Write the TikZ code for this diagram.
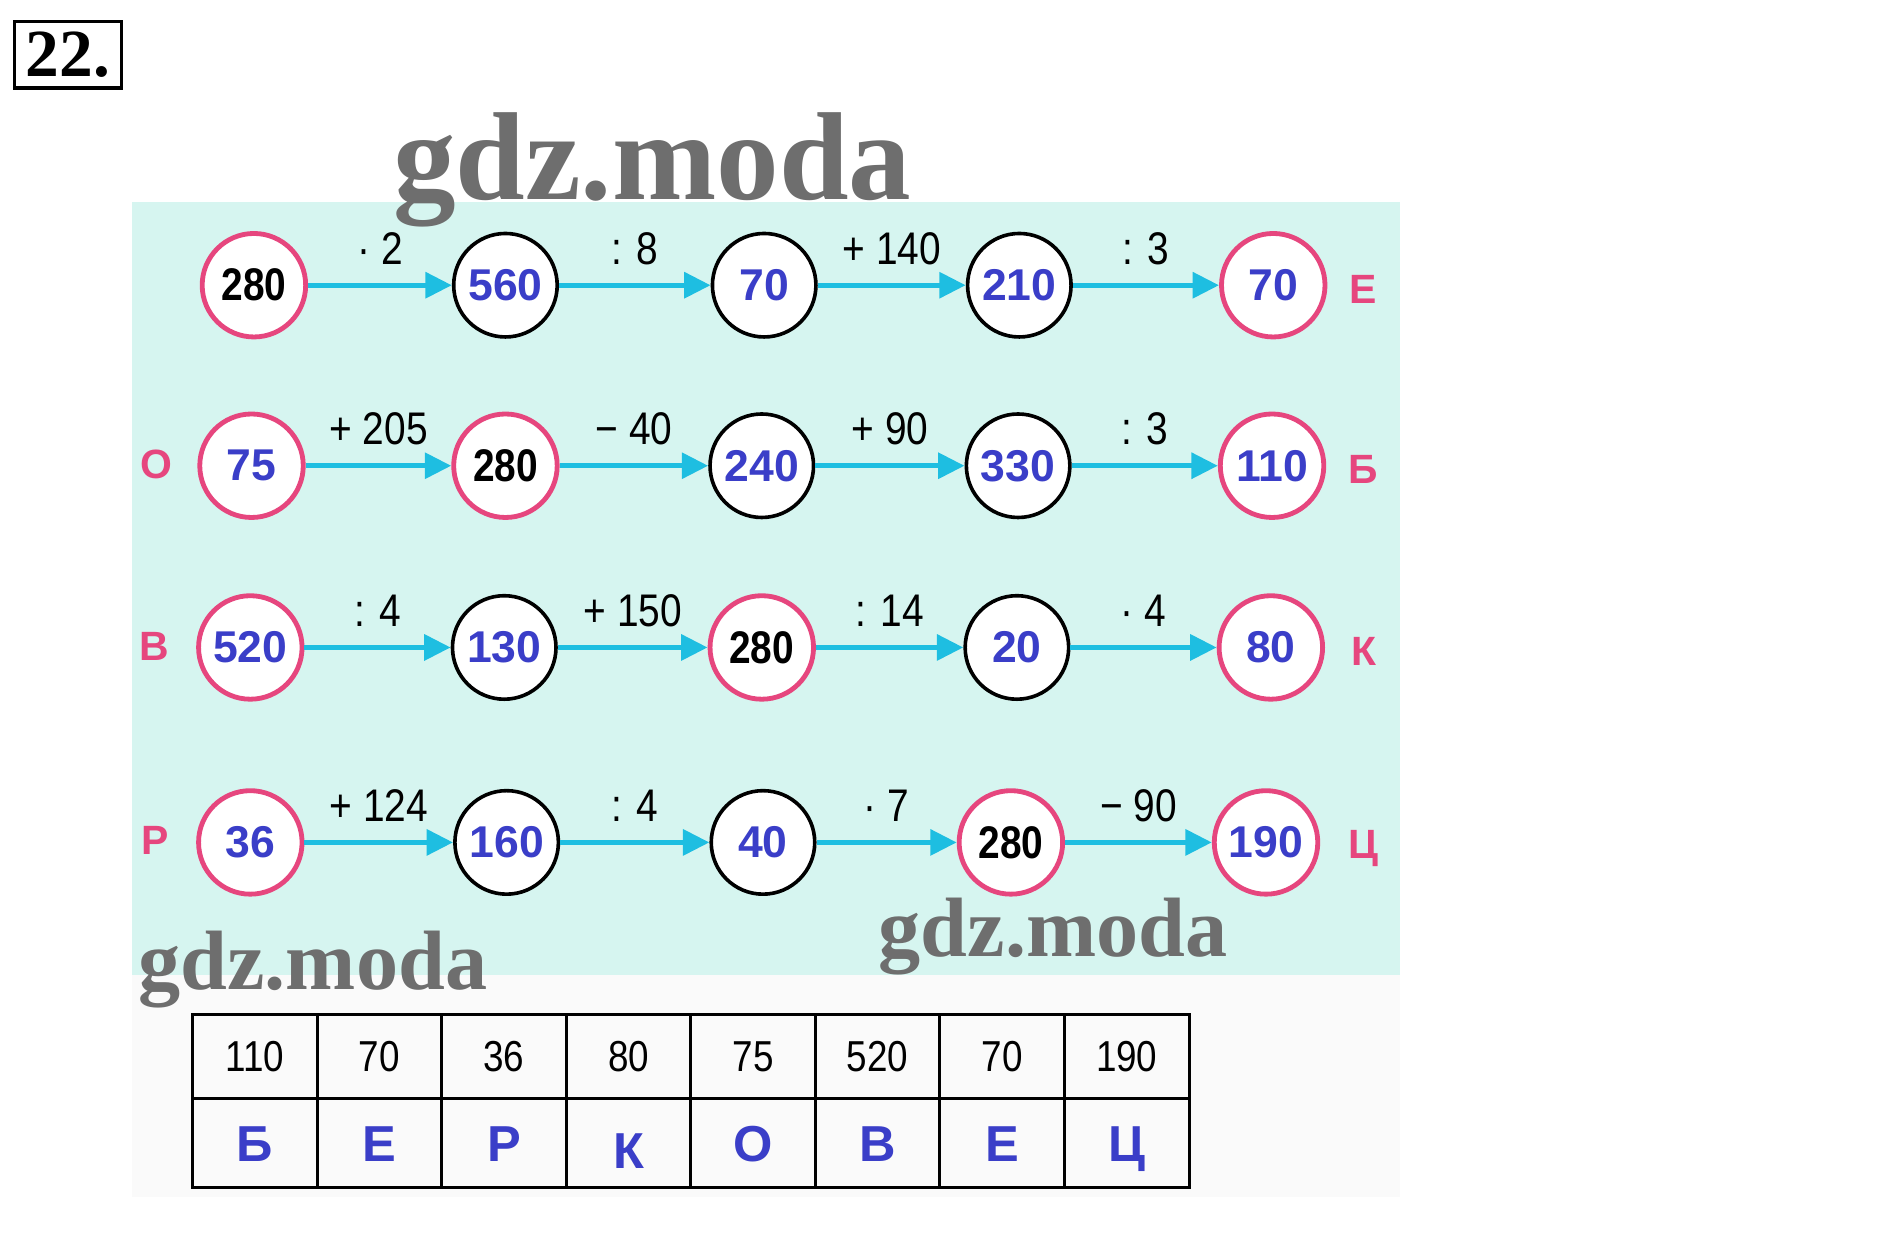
\documentclass[tikz,border=0pt]{standalone}
\usepackage{fontspec}
\setmainfont{Liberation Sans}
\newfontfamily\narrowfont{Liberation Sans}[FakeStretch=0.85]
\newfontfamily\seriffont{Liberation Serif}
\usetikzlibrary{arrows.meta}
\definecolor{bgcyan}{RGB}{214,245,240}
\definecolor{bgpale}{RGB}{250,250,250}
\definecolor{pinkc}{RGB}{230,70,126}
\definecolor{bluec}{RGB}{58,62,200}
\definecolor{arrc}{RGB}{30,190,225}
\definecolor{wmgray}{RGB}{110,110,110}
\begin{document}
\begin{tikzpicture}[x=1pt,y=-1pt,
  pc/.style={circle,draw=pinkc,line width=4pt,fill=white,minimum size=86pt,inner sep=0pt},
  bc/.style={circle,draw=black,line width=3pt,fill=white,minimum size=86pt,inner sep=0pt},
  bn/.style={text=bluec,font=\fontsize{37}{40}\selectfont\bfseries},
  kn/.style={text=black,font=\narrowfont\fontsize{38}{40}\selectfont\bfseries},
  arr/.style={draw=arrc,line width=4.5pt,-{Triangle[length=22pt,width=21pt]}},
  op/.style={midway,above=15pt,inner sep=0pt,font=\narrowfont\fontsize{38}{40}\selectfont},
  lt/.style={text=pinkc,font=\fontsize{34}{36}\selectfont\bfseries,text height=24pt,text depth=0pt,inner sep=0pt},
  wm/.style={text=wmgray,font=\seriffont\bfseries,anchor=base,inner sep=0pt},
  cellt/.style={draw,line width=2.5pt,minimum width=103.5pt,minimum height=70pt,inner sep=0pt,
    font=\narrowfont\fontsize{36}{38}\selectfont},
  cellb/.style={draw,line width=2.5pt,minimum width=103.5pt,minimum height=74pt,inner sep=0pt,
    text=bluec,font=\fontsize{42}{44}\selectfont\bfseries,text height=30pt,text depth=0pt}
]
\useasboundingbox (0,0) rectangle (1568,1033);
\fill[white] (0,0) rectangle (1568,1033);
\fill[bgcyan] (110,168) rectangle (1163,810);
\fill[bgpale] (110,810) rectangle (1163,995);

% exercise number
\node[draw,line width=3pt,minimum width=89pt,minimum height=55pt,inner sep=0pt,
  font=\seriffont\bfseries\fontsize{56}{58}\selectfont] (num) at (56.5,45.5) {22.};

% row 1
\node[pc,kn] (a1) at (211,237) {280};
\node[bc,bn] (a2) at (420,237) {560};
\node[bc,bn] (a3) at (635,237) {70};
\node[bc,bn] (a4) at (847,237) {210};
\node[pc,bn] (a5) at (1058,237) {70};
\node[lt] (la) at (1133,240) {Е};
\draw[arr] (a1) -- node[op]{· 2} (a2);
\draw[arr] (a2) -- node[op]{: 8} (a3);
\draw[arr] (a3) -- node[op]{+ 140} (a4);
\draw[arr] (a4) -- node[op]{: 3} (a5);

% row 2
\node[lt] (lbl) at (130,386) {О};
\node[pc,bn] (b1) at (209,387) {75};
\node[pc,kn] (b2) at (420,387) {280};
\node[bc,bn] (b3) at (633,387) {240};
\node[bc,bn] (b4) at (846,387) {330};
\node[pc,bn] (b5) at (1057,387) {110};
\node[lt] (lbr) at (1133,390) {Б};
\draw[arr] (b1) -- node[op]{+ 205} (b2);
\draw[arr] (b2) -- node[op]{− 40} (b3);
\draw[arr] (b3) -- node[op]{+ 90} (b4);
\draw[arr] (b4) -- node[op]{: 3} (b5);

% row 3
\node[lt] (lcl) at (128,537) {В};
\node[pc,bn] (c1) at (208,538) {520};
\node[bc,bn] (c2) at (419,538) {130};
\node[pc,kn] (c3) at (633,538) {280};
\node[bc,bn] (c4) at (845,538) {20};
\node[pc,bn] (c5) at (1056,538) {80};
\node[lt] (lcr) at (1133,541) {К};
\draw[arr] (c1) -- node[op]{: 4} (c2);
\draw[arr] (c2) -- node[op]{+ 150} (c3);
\draw[arr] (c3) -- node[op]{: 14} (c4);
\draw[arr] (c4) -- node[op]{· 4} (c5);

% row 4
\node[lt] (ldl) at (129,698) {Р};
\node[pc,bn] (d1) at (208,700) {36};
\node[bc,bn] (d2) at (421,700) {160};
\node[bc,bn] (d3) at (634,700) {40};
\node[pc,kn] (d4) at (840,700) {280};
\node[pc,bn] (d5) at (1052,700) {190};
\node[lt] (ldr) at (1133,701) {Ц};
\draw[arr] (d1) -- node[op]{+ 124} (d2);
\draw[arr] (d2) -- node[op]{: 4} (d3);
\draw[arr] (d3) -- node[op]{· 7} (d4);
\draw[arr] (d4) -- node[op]{− 90} (d5);

% answer table
\foreach \i/\n in {0/110,1/70,2/36,3/80,4/75,5/520,6/70,7/190}{
  \node[cellt] (t\i) at (211.75+\i*103.5,878) {\n};
}
\foreach \i/\l in {0/Б,1/Е,2/Р,4/О,5/В,6/Е,7/Ц}{
  \node[cellb] (u\i) at (211.75+\i*103.5,950) {\l};
}
\node[cellb] (u3) at (522.25,950) {\raisebox{-6pt}{К}};

% watermarks
\node[wm,font=\seriffont\bfseries\fontsize{104}{106}\selectfont] (w1) at (542,166) {gdz.moda};
\node[wm,font=\seriffont\bfseries\fontsize{70}{72}\selectfont] (w2) at (260,822) {gdz.moda};
\node[wm,font=\seriffont\bfseries\fontsize{70}{72}\selectfont] (w3) at (875,795) {gdz.moda};
\end{tikzpicture}
\end{document}
